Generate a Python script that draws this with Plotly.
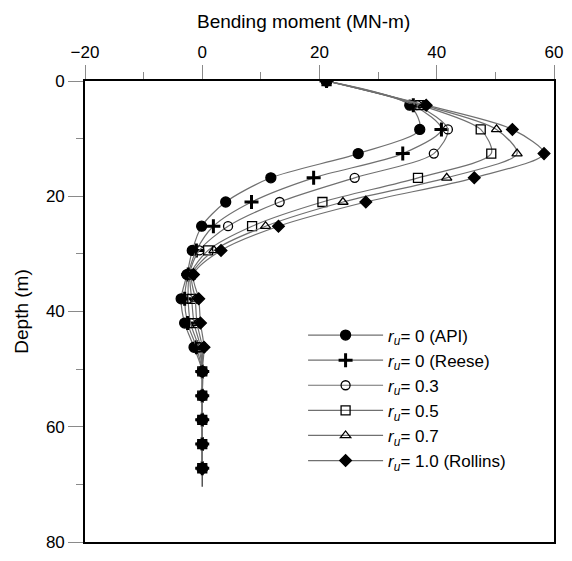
import plotly.graph_objects as go

depth = [0, 4.2, 8.4, 12.6, 16.8, 21.0, 25.2, 29.4, 33.6, 37.8, 42.0, 46.2, 50.4, 54.6, 58.8, 63.0, 67.2]
pile_tip = [67.2, 70.4]
tip_moment = [0, 0]

m_api = [21.2, 35.4, 37.1, 26.6, 11.7, 4.0, -0.1, -1.7, -2.6, -3.6, -3.0, -1.4, 0, 0, 0, 0, 0]
m_reese = [21.2, 36.0, 40.8, 34.2, 19.0, 8.4, 1.9, -1.0, -2.4, -3.0, -2.5, -1.0, 0, 0, 0, 0, 0]
m_03 = [21.2, 36.6, 41.9, 39.5, 26.0, 13.2, 4.4, -0.5, -2.2, -2.4, -2.0, -0.6, 0, 0, 0, 0, 0]
m_05 = [21.2, 37.2, 47.5, 49.3, 36.8, 20.5, 8.5, 1.0, -2.0, -1.8, -1.4, -0.3, 0, 0, 0, 0, 0]
m_07 = [21.2, 37.7, 50.2, 53.7, 41.7, 24.0, 10.8, 2.0, -1.8, -1.2, -0.9, 0.0, 0, 0, 0, 0, 0]
m_rollins = [21.2, 38.2, 52.9, 58.3, 46.4, 27.9, 13.0, 3.2, -1.5, -0.6, -0.3, 0.3, 0, 0, 0, 0, 0]

labels = [
    "<i>r<sub>u</sub></i>= 0 (API)",
    "<i>r<sub>u</sub></i>= 0 (Reese)",
    "<i>r<sub>u</sub></i>= 0.3",
    "<i>r<sub>u</sub></i>= 0.5",
    "<i>r<sub>u</sub></i>= 0.7",
    "<i>r<sub>u</sub></i>= 1.0 (Rollins)",
]
series = [m_api, m_reese, m_03, m_05, m_07, m_rollins]
symbols = ["circle", "cross-thin", "circle-open", "square-open", "triangle-up-open", "diamond"]
sizes = [10, 10, 9, 9, 9, 9]

fig = go.Figure()
fig.add_trace(go.Scatter(x=tip_moment, y=pile_tip, mode="lines",
                         line=dict(color="#555555", width=1.5), showlegend=False))
for lab, vals, sym, sz in zip(labels, series, symbols, sizes):
    mk = dict(symbol=sym, size=sz, color="black", line=dict(color="black", width=1.3))
    if sym == "cross-thin":
        mk["line"] = dict(color="black", width=3)
    fig.add_trace(go.Scatter(
        x=vals, y=depth, mode="lines+markers", name=lab,
        line=dict(color="#707070", width=1.2, shape="spline", smoothing=0.8),
        marker=mk,
    ))

fig.update_layout(
    width=572, height=561,
    margin=dict(l=85, r=18, t=81, b=9),
    paper_bgcolor="white", plot_bgcolor="white",
    font=dict(family="Arial, Liberation Sans, sans-serif", size=17, color="black"),
    showlegend=True,
    legend=dict(x=0.465, y=0.487, xanchor="left", yanchor="top", itemwidth=75,
                bgcolor="rgba(0,0,0,0)", font=dict(size=17), tracegroupgap=0),
    annotations=[dict(text="Bending moment (MN-m)", xref="paper", yref="paper",
                      x=0.465, y=1 + 61 / 471, xanchor="center", yanchor="middle",
                      showarrow=False, font=dict(size=19))],
    xaxis=dict(
        side="top", range=[-20, 60], tickvals=[-20, 0, 20, 40, 60],
        ticks="outside", ticklen=14, tickcolor="#8a8a8a", tickwidth=1.2,
        minor=dict(dtick=10, ticks="outside", ticklen=7, tickcolor="#8a8a8a", tickwidth=1.2),
        showline=True, linecolor="black", linewidth=1.6, mirror=True,
        showgrid=False, zeroline=False,
        tickfont=dict(size=17),
    ),
    yaxis=dict(
        range=[80, 0], tickvals=[0, 20, 40, 60, 80],
        ticks="outside", ticklen=15, tickcolor="#8a8a8a", tickwidth=1.2,
        minor=dict(dtick=10, ticks="outside", ticklen=7, tickcolor="#8a8a8a", tickwidth=1.2),
        showline=True, linecolor="black", linewidth=1.6, mirror=True,
        showgrid=False, zeroline=False, ticklabeloverflow="allow",
        title=dict(text="Depth (m)", font=dict(size=19), standoff=12),
        tickfont=dict(size=17),
    ),
)

fig.write_html("out.html")
